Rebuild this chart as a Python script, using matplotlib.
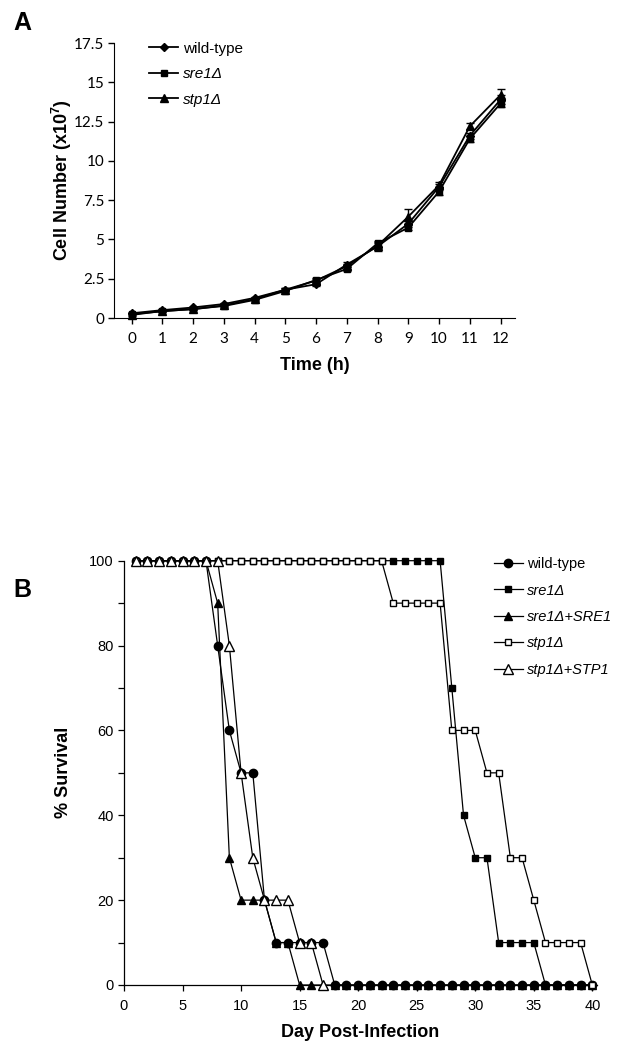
import matplotlib
matplotlib.use("Agg")
import matplotlib.pyplot as plt
from matplotlib.lines import Line2D
import numpy as np

plt.rcParams['font.family'] = ['Liberation Sans', 'DejaVu Sans']
plt.rcParams['mathtext.fontset'] = 'custom'
plt.rcParams['mathtext.rm'] = 'Liberation Sans'
plt.rcParams['mathtext.it'] = 'Liberation Sans:italic'
plt.rcParams['mathtext.bf'] = 'Liberation Sans:bold'

# ---------------- Panel A data ----------------
hours = list(range(13))
wt_cells = [0.3, 0.5, 0.67, 0.89, 1.28, 1.8, 2.15, 3.4, 4.55, 6.0, 8.35, 11.6, 13.9]
sre1_cells = [0.25, 0.42, 0.58, 0.76, 1.15, 1.72, 2.42, 3.12, 4.75, 5.75, 8.05, 11.4, 13.65]
stp1_cells = [0.19, 0.45, 0.55, 0.8, 1.2, 1.8, 2.38, 3.3, 4.6, 6.45, 8.45, 12.2, 14.2]
wt_err = [0.05, 0.05, 0.05, 0.05, 0.08, 0.08, 0.1, 0.15, 0.3, 0.2, 0.2, 0.2, 0.3]
sre1_err = [0.05, 0.05, 0.05, 0.05, 0.08, 0.08, 0.1, 0.1, 0.15, 0.15, 0.2, 0.2, 0.2]
stp1_err = [0.05, 0.05, 0.05, 0.05, 0.08, 0.08, 0.1, 0.15, 0.15, 0.5, 0.2, 0.2, 0.4]
a_labels = ['wild-type', 'sre1Δ', 'stp1Δ']
a_yticks = [0, 2.5, 5, 7.5, 10, 12.5, 15, 17.5]
a_yticklabels = ["0", "2.5", "5", "7.5", "10", "12.5", "15", "17.5"]

# ---------------- Panel B data ----------------
days = list(range(1, 41))
wt_surv = [100]*7 + [80, 60, 50, 50, 20, 10, 10, 10, 10, 10] + [0]*23
sre1_surv = [100]*27 + [70, 40, 30, 30, 10, 10, 10, 10] + [0]*5
sre1_SRE1_surv = [100]*7 + [90, 30, 20, 20, 20, 10, 10] + [0]*26
stp1_surv = [100]*22 + [90, 90, 90, 90, 90, 60, 60, 60, 50, 50, 30, 30, 20, 10, 10, 10, 10, 0]
stp1_STP1_days = list(range(1, 18))
stp1_STP1_surv = [100]*8 + [80, 50, 30, 20, 20, 20, 10, 10, 0]
b_labels = ['wild-type', 'sre1Δ', 'sre1Δ+SRE1', 'stp1Δ', 'stp1Δ+STP1']
b_xticks = [0, 5, 10, 15, 20, 25, 30, 35, 40]
b_yticks = [0, 20, 40, 60, 80, 100]

W, H = 617, 1050
fig = plt.figure(figsize=(W/100, H/100), dpi=100)

def frac_rect(l, r, top, bottom):
    return [l/W, 1-bottom/H, (r-l)/W, (bottom-top)/H]

# ================= Panel A =================
axA = fig.add_axes(frac_rect(114, 515, 43, 318))
lw = 1.3
handlesA = []
for y, e, m, ms, lab in [(wt_cells, wt_err, 'D', 4.0, a_labels[0]),
                         (sre1_cells, sre1_err, 's', 5.0, a_labels[1]),
                         (stp1_cells, stp1_err, '^', 5.5, a_labels[2])]:
    axA.errorbar(hours, y, yerr=e, color='black', marker=m, markersize=ms, lw=lw,
                 capsize=3, elinewidth=1, capthick=1, clip_on=False)
    handlesA.append(Line2D([], [], color='black', marker=m, markersize=ms, lw=lw))
axA.set_xlim(-0.57, 12.47)
axA.set_ylim(0, 17.5)
axA.set_xticks(hours)
axA.set_xticklabels([str(h) for h in hours], fontsize=11, family=['Lato', 'DejaVu Sans'])
axA.set_yticks(a_yticks)
axA.set_yticklabels(a_yticklabels, fontsize=11, family=['Lato', 'DejaVu Sans'])
axA.tick_params(axis='x', direction='out', length=4, width=1, pad=6)
axA.tick_params(axis='y', direction='out', length=4, width=1, pad=3)
axA.spines['top'].set_visible(False)
axA.spines['right'].set_visible(False)
axA.set_xlabel('Time (h)', fontsize=13, fontweight='bold', labelpad=8)
axA.set_ylabel(r'Cell Number (x10$^\mathbf{7}$)', fontsize=13, fontweight='bold', labelpad=0)
legA = axA.legend(handlesA, a_labels, loc='upper left',
                  bbox_to_anchor=((143-114)/(515-114), 1.027), frameon=False, fontsize=11,
                  handlelength=1.9, handletextpad=0.3, labelspacing=0.75, borderaxespad=0)
for t in legA.get_texts()[1:]:
    t.set_fontstyle('italic')
fig.text(13/W, 1-30/H, 'A', fontsize=18, fontweight='bold', ha='left', va='baseline')

# ================= Panel B =================
axB = fig.add_axes(frac_rect(124, 597, 560.7, 985))
lwb = 0.9
axB.plot(days, wt_surv, color='black', marker='o', markersize=6, lw=lwb,
         label=b_labels[0], clip_on=False, zorder=3)
axB.plot(days, sre1_surv, color='black', marker='s', markersize=4.5, lw=lwb,
         label=b_labels[1], clip_on=False, zorder=4)
axB.plot(days, sre1_SRE1_surv, color='black', marker='^', markersize=5.5, lw=lwb,
         label=b_labels[2], clip_on=False, zorder=5)
axB.plot(days, stp1_surv, color='black', marker='s', markersize=4.5, lw=lwb,
         markerfacecolor='white', label=b_labels[3], clip_on=False, zorder=6)
axB.plot(stp1_STP1_days, stp1_STP1_surv, color='black', marker='^', markersize=6.5, lw=lwb,
         markerfacecolor='white', label=b_labels[4], clip_on=False, zorder=7)
axB.set_xlim(0, 40.4)
axB.set_ylim(0, 100)
axB.set_xticks(b_xticks)
axB.set_xticklabels([str(v) for v in b_xticks], fontsize=10.5)
axB.set_yticks(b_yticks)
axB.set_yticklabels([str(v) for v in b_yticks], fontsize=10.5)
axB.set_yticks(list(range(10, 100, 20)), minor=True)
axB.tick_params(axis='both', which='both', direction='out', length=4, width=0.9)
axB.tick_params(axis='x', pad=6)
axB.spines['top'].set_visible(False)
axB.spines['right'].set_visible(False)
for s in ['left', 'bottom']:
    axB.spines[s].set_linewidth(0.9)
axB.set_xlabel('Day Post-Infection', fontsize=13, fontweight='bold', labelpad=8)
axB.set_ylabel('% Survival', fontsize=13, fontweight='bold', labelpad=12)
legB = axB.legend(loc='upper left', bbox_to_anchor=((488-124)/(597-124), 1.022), frameon=False,
                  fontsize=10.5, handlelength=2.0, handletextpad=0.25, labelspacing=0.85,
                  borderaxespad=0)
for t in legB.get_texts()[1:]:
    t.set_fontstyle('italic')
fig.text(13/W, 1-597/H, 'B', fontsize=18, fontweight='bold', ha='left', va='baseline')

fig.savefig('out.png', dpi=100)
